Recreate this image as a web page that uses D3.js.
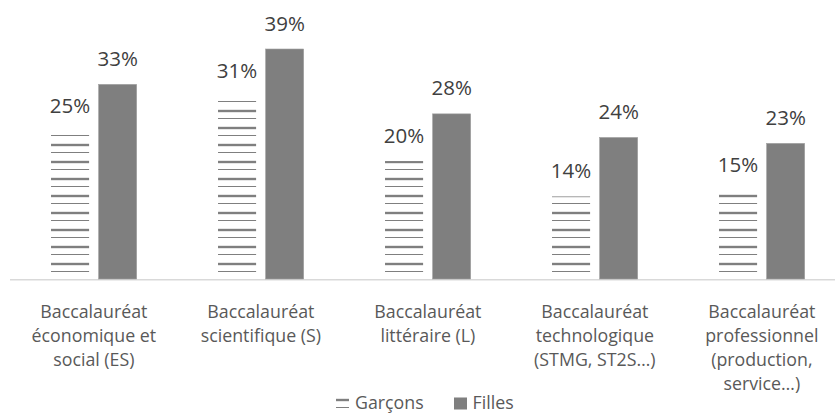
<!DOCTYPE html>
<html>
<head>
<meta charset="utf-8">
<script src="https://cdn.jsdelivr.net/npm/d3@7"></script>
<style>
  html, body { margin: 0; padding: 0; background: #fff; }
  svg { display: block; }
  text { font-family: "Open Sans", "Noto Sans", sans-serif; }
</style>
</head>
<body>
<svg id="chart" width="835" height="414"></svg>
<script>
// Répartition par type de baccalauréat, selon le sexe
const categories = [
  ["Baccalauréat", "économique et", "social (ES)"],
  ["Baccalauréat", "scientifique (S)"],
  ["Baccalauréat", "littéraire (L)"],
  ["Baccalauréat", "technologique", "(STMG, ST2S…)"],
  ["Baccalauréat", "professionnel", "(production,", "service…)"]
];
const seriesNames = ["Garçons", "Filles"];
const garcons = [25, 31, 20, 14, 15];
const filles = [33, 39, 28, 24, 23];

const W = 835, H = 414;
const svg = d3.select("#chart");
const catKeys = categories.map((c, i) => i);

const x0 = d3.scaleBand()
  .domain(catKeys)
  .range([10.35, 845.35])
  .paddingInner(0.487)
  .paddingOuter(0.2435);

const x1 = d3.scaleBand()
  .domain(seriesNames)
  .range([0, x0.bandwidth()])
  .paddingInner(0.2);

const y = d3.scaleLinear().domain([0, 39]).range([279, 49]);

// Striped fill for the "Garçons" series
const defs = svg.append("defs");
const pat = defs.append("pattern")
  .attr("id", "stripes")
  .attr("patternUnits", "userSpaceOnUse")
  .attr("width", 8).attr("height", 17);
pat.append("rect").attr("x", 0).attr("y", 7.8).attr("width", 8).attr("height", 2.4).attr("fill", "#7f7f7f");
pat.append("rect").attr("x", 0).attr("y", 16).attr("width", 8).attr("height", 1.6).attr("fill", "#7f7f7f");

const fills = { "Garçons": "url(#stripes)", "Filles": "#7f7f7f" };

const rows = categories.map((c, i) => ({ i, values: { "Garçons": garcons[i], "Filles": filles[i] } }));

// Axis baseline
svg.append("line")
  .attr("x1", 10).attr("x2", W)
  .attr("y1", y(0) + 0.75).attr("y2", y(0) + 0.75)
  .attr("stroke", "#d9d9d9").attr("stroke-width", 1.5);

const groups = svg.append("g").selectAll("g")
  .data(rows).join("g")
  .attr("transform", d => `translate(${x0(d.i)},0)`);

groups.selectAll("rect")
  .data(d => seriesNames.map(s => ({ s, v: d.values[s] })))
  .join("rect")
  .attr("x", d => x1(d.s))
  .attr("y", d => y(d.v))
  .attr("width", x1.bandwidth())
  .attr("height", d => y(0) - y(d.v))
  .attr("fill", d => fills[d.s])
  .attr("stroke", d => d.s === "Filles" ? "#a0a0a0" : "none")
  .attr("stroke-width", 0.6);

groups.selectAll("text.val")
  .data(d => seriesNames.map(s => ({ s, v: d.values[s] })))
  .join("text")
  .attr("class", "val")
  .attr("x", d => x1(d.s) + x1.bandwidth() / 2)
  .attr("y", d => y(d.v) - 18.5)
  .attr("text-anchor", "middle")
  .attr("fill", "#404040")
  .attr("font-size", 20.5)
  .text(d => d.v + "%");

// Category labels under the axis
const xAxis = d3.axisBottom(x0).tickSize(0).tickFormat("");
const axisG = svg.append("g").attr("transform", `translate(0,${y(0)})`).call(xAxis);
axisG.select(".domain").remove();
axisG.selectAll(".tick text").remove();
axisG.selectAll(".tick").append("text")
  .attr("text-anchor", "middle")
  .attr("fill", "#595959")
  .attr("font-size", 17.8)
  .selectAll("tspan")
  .data(i => categories[i])
  .join("tspan")
  .attr("x", 0)
  .attr("y", (d, k) => 38.5 + k * 24)
  .text(d => d);

// Legend
const legend = svg.append("g");
legend.append("rect").attr("x", 336).attr("y", 397).attr("width", 13).attr("height", 13).attr("fill", fills["Garçons"]);
legend.append("text").attr("x", 355).attr("y", 408.5).attr("fill", "#595959").attr("font-size", 17.8).text(seriesNames[0]);
legend.append("rect").attr("x", 454).attr("y", 397.5).attr("width", 13).attr("height", 12).attr("fill", fills["Filles"]);
legend.append("text").attr("x", 472.5).attr("y", 408.5).attr("fill", "#595959").attr("font-size", 17.8).text(seriesNames[1]);
</script>
</body>
</html>
